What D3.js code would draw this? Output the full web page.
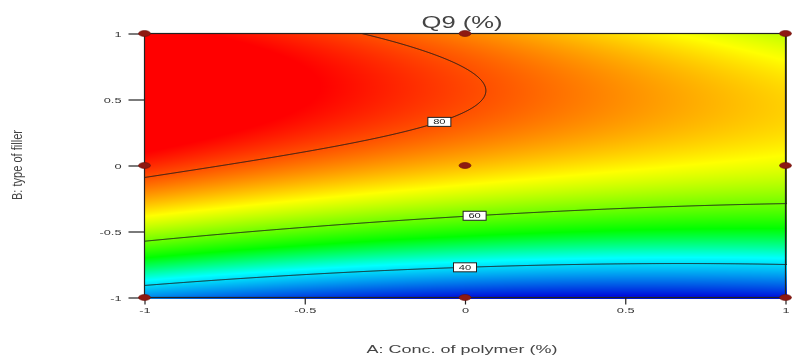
<!DOCTYPE html>
<html>
<head>
<meta charset="utf-8">
<script src="https://cdn.jsdelivr.net/npm/d3@7"></script>
<style>
  body { margin: 0; background: #fff; }
  #wrap { position: relative; width: 792px; height: 360px; }
  #wrap canvas, #wrap svg { position: absolute; left: 0; top: 0; }
  text { font-family: "Liberation Sans", Arial, sans-serif; }
</style>
</head>
<body>
<div id="wrap">
  <canvas id="surface" width="792" height="360"></canvas>
  <svg id="chart" width="792" height="360"></svg>
</div>
<script>
// ---- Data -----------------------------------------------------------------
// Coded factor levels shown on both axes
const tickValues = [-1, -0.5, 0, 0.5, 1];
const tickLabels = ["-1", "-0.5", "0", "0.5", "1"];

// Design points (3x3 factorial, coded units)
const designA = [-1, 0, 1, -1, 0, 1, -1, 0, 1];
const designB = [1, 1, 1, 0, 0, 0, -1, -1, -1];

// Final equation for Q9 (%) in coded terms
const modelTerms = ["1", "A", "B", "AB", "A^2", "B^2", "A^2B", "AB^2"];
const modelCoefs = [73.25, -7.5, 25.75, -3.41, 1.85, -22.5, -2.56, -0.19];

// Contour levels and where along A each level is labelled
const contourLevels = [40, 60, 80];
const labelAtA = [0.0, 0.03, -0.08];

// Colour ramp of the response surface
const colorStops = [25, 42.5, 53, 69, 85];
const colorRange = ["#0010dc", "#00ffff", "#00ff00", "#ffff00", "#ff0000"];

// ---- Layout ---------------------------------------------------------------
const X0 = 144, Y0 = 33, W = 643, H = 266;   // plot area in pixels
const x = d3.scaleLinear().domain([-1, 1]).range([X0 + 0.5, X0 + W - 1.5]);
const y = d3.scaleLinear().domain([-1, 1]).range([Y0 + H - 1.5, Y0 + 0.5]);
const color = d3.scaleLinear().domain(colorStops).range(colorRange)
  .interpolate(d3.interpolateRgb).clamp(true);
const STRETCH = 1.6;   // horizontal stretch of the lettering

function q9(a, b) {
  const t = { "1": 1, "A": a, "B": b, "AB": a * b, "A^2": a * a, "B^2": b * b,
              "A^2B": a * a * b, "AB^2": a * b * b };
  let s = 0;
  modelTerms.forEach((k, i) => { s += modelCoefs[i] * t[k]; });
  return s;
}

// ---- Response grid (one value per plot pixel) -----------------------------
const values = new Float64Array(W * H);
for (let j = 0; j < H; j++) {
  const b = y.invert(Y0 + j + 0.5);
  for (let i = 0; i < W; i++) {
    values[j * W + i] = q9(x.invert(X0 + i + 0.5), b);
  }
}

// ---- Colour surface on canvas ---------------------------------------------
const ctx = document.getElementById("surface").getContext("2d");
const img = ctx.createImageData(W, H);
for (let k = 0; k < W * H; k++) {
  const c = d3.rgb(color(values[k]));
  img.data[4 * k] = c.r; img.data[4 * k + 1] = c.g;
  img.data[4 * k + 2] = c.b; img.data[4 * k + 3] = 255;
}
ctx.putImageData(img, X0, Y0);

// ---- SVG overlay ----------------------------------------------------------
const svg = d3.select("#chart");
svg.append("defs").append("clipPath").attr("id", "plotClip")
  .append("rect").attr("x", X0).attr("y", Y0).attr("width", W).attr("height", H);

const contours = d3.contours().size([W, H]).thresholds(contourLevels)(Array.from(values));
const path = d3.geoPath(d3.geoIdentity().translate([X0, Y0]));

svg.append("g").attr("clip-path", "url(#plotClip)")
  .selectAll("path").data(contours).join("path")
  .attr("d", path).attr("fill", "none")
  .attr("stroke", "#1a1a1a").attr("stroke-width", 1);

// Frame
svg.append("rect").attr("x", X0 + 0.5).attr("y", Y0 + 0.5)
  .attr("width", W - 2).attr("height", H - 2)
  .attr("fill", "none").attr("stroke", "#222").attr("stroke-width", 1.2);

// Contour labels placed on the lines
contours.forEach((geo, k) => {
  const tx = x(labelAtA[k]);
  let best = null;
  geo.coordinates.forEach(poly => poly.forEach(ring => {
    for (let i = 1; i < ring.length; i++) {
      const p = ring[i - 1], q = ring[i];
      const px0 = X0 + p[0], px1 = X0 + q[0];
      if (px0 !== px1 && (px0 - tx) * (px1 - tx) <= 0) {
        const t = (tx - px0) / (px1 - px0);
        const py = Y0 + p[1] + t * (q[1] - p[1]);
        if (py > Y0 + 1 && py < Y0 + H - 1 && (best === null || py > best)) best = py;
      }
    }
  }));
  if (best === null) return;
  const g = svg.append("g").attr("transform", `translate(${tx},${best})`);
  g.append("rect").attr("x", -11.5).attr("y", -4.5).attr("width", 23).attr("height", 9)
    .attr("fill", "#fff").attr("stroke", "#222").attr("stroke-width", 1);
  g.append("text").attr("text-anchor", "middle").attr("dy", "0.35em")
    .attr("transform", `scale(${STRETCH},1)`)
    .attr("font-size", 7).attr("fill", "#222").text(contourLevels[k]);
});

// Axes
function stretchTicks(sel) {
  sel.selectAll(".tick text").each(function () {
    const t = d3.select(this);
    const tx0 = +t.attr("x") || 0, ty0 = +t.attr("y") || 0;
    t.attr("x", 0).attr("y", 0)
      .attr("transform", `translate(${tx0},${ty0}) scale(${STRETCH},1)`);
  });
}
const yAxis = svg.append("g").attr("transform", `translate(${X0 + 0.5},0)`)
  .call(d3.axisLeft(y).tickValues(tickValues).tickFormat((d, i) => tickLabels[i])
    .tickSize(16).tickPadding(7));
const xAxis = svg.append("g").attr("transform", `translate(0,${Y0 + H - 1.5})`)
  .call(d3.axisBottom(x).tickValues(tickValues).tickFormat((d, i) => tickLabels[i])
    .tickSize(7).tickPadding(3));
[yAxis, xAxis].forEach(ax => {
  ax.select(".domain").remove();
  ax.selectAll(".tick line").attr("stroke", "#222").attr("stroke-width", 1.2);
  ax.selectAll(".tick text").attr("font-size", 8).attr("fill", "#333")
    .attr("font-family", "'Liberation Sans', Arial, sans-serif");
  stretchTicks(ax);
});

// Design points
svg.append("g").selectAll("ellipse").data(designA).join("ellipse")
  .attr("cx", (d, i) => x(designA[i])).attr("cy", (d, i) => y(designB[i]))
  .attr("rx", 6).attr("ry", 3)
  .attr("fill", "#8e1a12").attr("stroke", "#6a0f0a").attr("stroke-width", 0.6);

// Titles
svg.append("text").attr("x", 462).attr("y", 28).attr("text-anchor", "middle")
  .attr("font-size", 16).attr("fill", "#444")
  .attr("textLength", 81).attr("lengthAdjust", "spacingAndGlyphs").text("Q9 (%)");
svg.append("text").attr("x", 462).attr("y", 353).attr("text-anchor", "middle")
  .attr("font-size", 11).attr("fill", "#444")
  .attr("textLength", 191).attr("lengthAdjust", "spacingAndGlyphs")
  .text("A: Conc. of polymer (%)");
svg.append("text").attr("transform", "translate(22,165) scale(1.4,1) rotate(-90)")
  .attr("text-anchor", "middle").attr("font-size", 11).attr("fill", "#444")
  .attr("textLength", 70).attr("lengthAdjust", "spacingAndGlyphs")
  .text("B: type of filler");
</script>
</body>
</html>
